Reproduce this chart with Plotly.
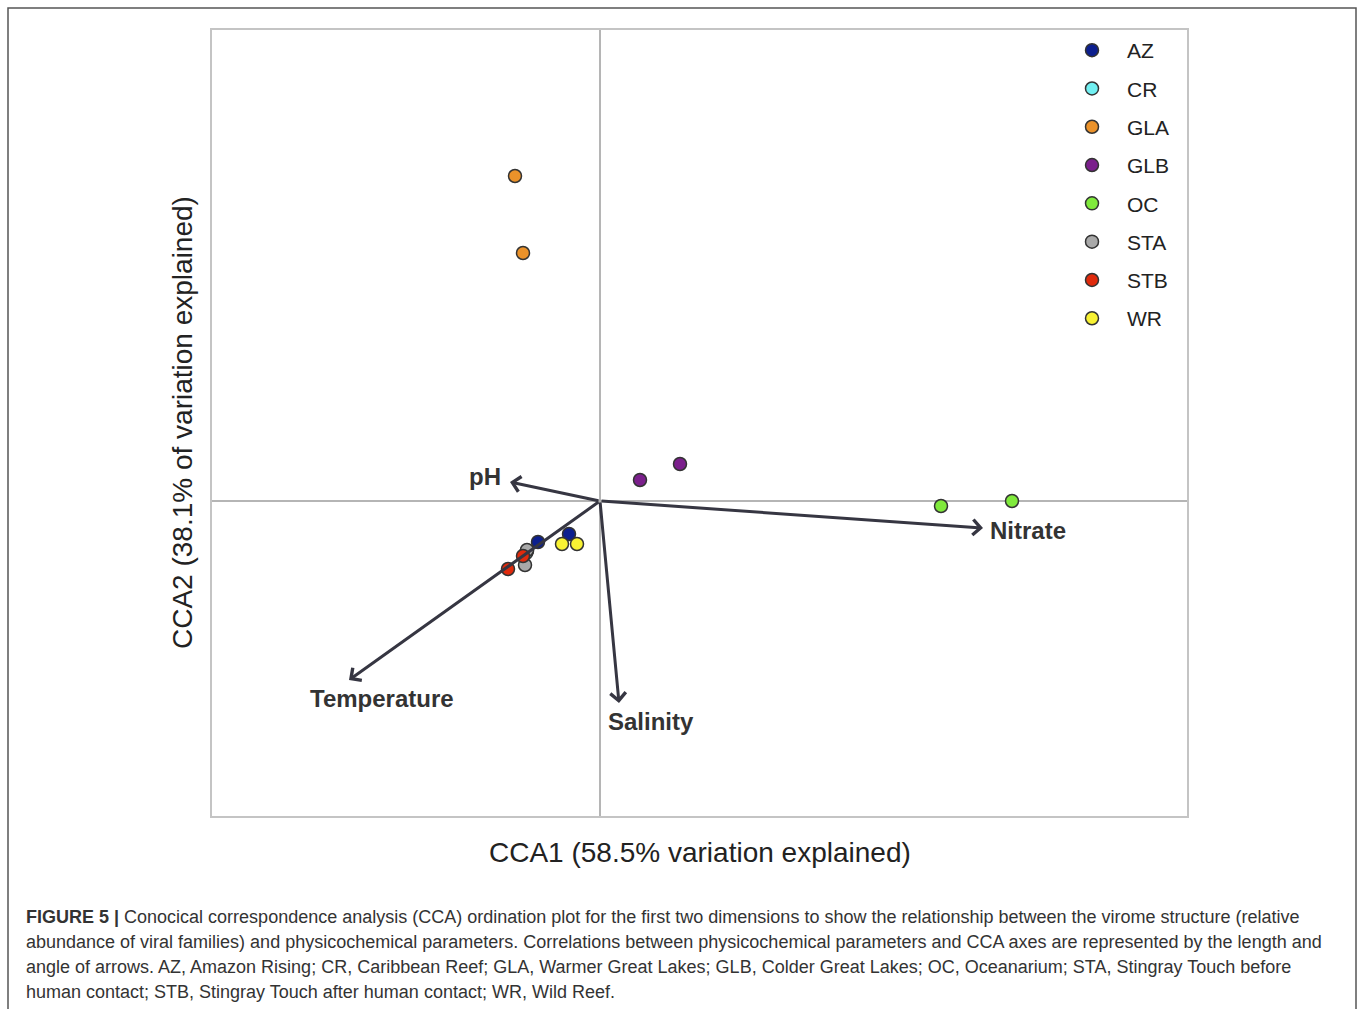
import plotly.graph_objects as go

# ---- data (CCA site scores) ----
groups = ["AZ", "CR", "GLA", "GLB", "OC", "STA", "STB", "WR"]
colors = ["#0c1f8e", "#72f0f2", "#eb922a", "#7b1f8c", "#80ea3c", "#a9a9a9", "#e02a0c", "#f8f233"]
cca1 = {
    "AZ": [-0.62, -0.31],
    "CR": [-0.73, -0.74],
    "GLA": [-0.85, -0.77],
    "GLB": [0.40, 0.80],
    "OC": [3.41, 4.12],
    "STA": [-0.75, -0.73],
    "STB": [-0.77, -0.92],
    "WR": [-0.38, -0.23],
}
cca2 = {
    "AZ": [-0.41, -0.33],
    "CR": [-0.50, -0.52],
    "GLA": [3.25, 2.48],
    "GLB": [0.21, 0.37],
    "OC": [-0.05, 0.00],
    "STA": [-0.64, -0.49],
    "STB": [-0.55, -0.68],
    "WR": [-0.43, -0.43],
}
# environmental vectors (biplot arrows)
env_names = ["pH", "Nitrate", "Salinity", "Temperature"]
env_x = [-0.90, 3.83, 0.19, -2.51]
env_y = [0.19, -0.27, -2.02, -1.79]

x_title = "CCA1 (58.5% variation explained)"
y_title = "CCA2 (38.1% of variation explained)"
caption_lines = [
    "<b>FIGURE 5 |</b> Conocical correspondence analysis (CCA) ordination plot for the first two dimensions to show the relationship between the virome structure (relative",
    "abundance of viral families) and physicochemical parameters. Correlations between physicochemical parameters and CCA axes are represented by the length and",
    "angle of arrows. AZ, Amazon Rising; CR, Caribbean Reef; GLA, Warmer Great Lakes; GLB, Colder Great Lakes; OC, Oceanarium; STA, Stingray Touch before",
    "human contact; STB, Stingray Touch after human contact; WR, Wild Reef.",
]

# ---- figure ----
W, H = 1358, 1009
L, R, T, B = 212, 171, 30, 193
ph = H - T - B
pw = W - L - R

fig = go.Figure()
for g, c in zip(groups, colors):
    fig.add_trace(go.Scatter(
        x=cca1[g], y=cca2[g], mode="markers", name=g, legendgroup=g,
        marker=dict(size=13, color=c, line=dict(color="#333333", width=1.5)),
    ))

arrow_color = "#363642"
label_pos = {
    "pH": dict(dx=-7, dy=6, xanchor="right"),
    "Nitrate": dict(dx=5, dy=-2, xanchor="left"),
    "Salinity": dict(dx=32, dy=-18, xanchor="center"),
    "Temperature": dict(dx=33, dy=-18, xanchor="center"),
}
for n, ex, ey in zip(env_names, env_x, env_y):
    fig.add_annotation(
        x=ex, y=ey, ax=0, ay=0, xref="x", yref="y", axref="x", ayref="y",
        showarrow=True, arrowhead=4, arrowsize=1, arrowwidth=3, arrowcolor=arrow_color,
        standoff=0, text="",
    )
    p = label_pos[n]
    fig.add_annotation(
        x=ex, y=ey, xref="x", yref="y", showarrow=False, text=f"<b>{n}</b>",
        xshift=p["dx"], yshift=p["dy"], xanchor=p["xanchor"], yanchor="middle",
        font=dict(size=24, color="#333333", family="Liberation Sans, Arial"),
    )

# axis titles as annotations (exact placement)
fig.add_annotation(x=(700 - L) / pw, y=(H - B - 852) / ph, xref="paper", yref="paper",
                   text=x_title, showarrow=False, xanchor="center", yanchor="middle",
                   font=dict(size=28, color="#222222"))
fig.add_annotation(x=(182 - L) / pw, y=(H - B - 423) / ph, xref="paper", yref="paper",
                   text=y_title, showarrow=False, xanchor="center", yanchor="middle",
                   textangle=-90, font=dict(size=28, color="#222222"))

# caption
for i, line in enumerate(caption_lines):
    ypx = 917 + 25 * i
    fig.add_annotation(x=(24 - L) / pw, y=(H - B - ypx) / ph, xref="paper", yref="paper",
                       text=line, showarrow=False, xanchor="left", yanchor="middle",
                       font=dict(size=18, color="#333333"))

# outer frame
fig.add_shape(type="rect", xref="paper", yref="paper",
              x0=(8 - L) / pw, x1=(1356 - L) / pw,
              y0=(H - B - 1015) / ph, y1=(H - B - 8) / ph,
              line=dict(color="#555555", width=1.5), fillcolor="rgba(0,0,0,0)", layer="below")

axis_common = dict(showticklabels=False, ticks="", showgrid=False, zeroline=True,
                   zerolinecolor="#b5b5b5", zerolinewidth=2,
                   showline=True, linecolor="#c4c4c4", linewidth=2, mirror=True)
fig.update_xaxes(range=[-3.88, 5.87], **axis_common)
fig.update_yaxes(range=[-3.15, 4.71], **axis_common)

fig.update_layout(
    width=W, height=H,
    margin=dict(l=L, r=R, t=T, b=B),
    paper_bgcolor="white", plot_bgcolor="white",
    font=dict(family="Liberation Sans, Arial", color="#222222"),
    legend=dict(x=(1057 - L) / pw, y=(H - B - 30) / ph, xanchor="left", yanchor="top",
                bgcolor="rgba(0,0,0,0)", font=dict(size=21, color="#222222"),
                itemwidth=60, tracegroupgap=8),
    showlegend=True,
)

fig.write_html("out.html")
